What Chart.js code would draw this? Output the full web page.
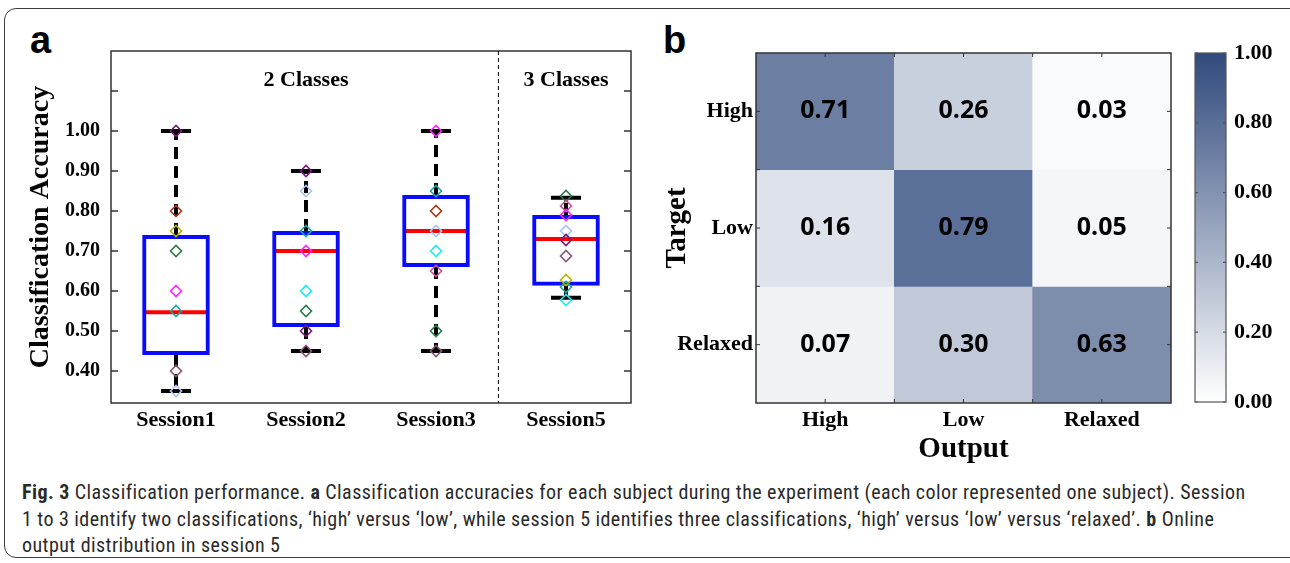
<!DOCTYPE html>
<html lang="en">
<head>
<meta charset="UTF-8">
<title>Fig. 3 Classification performance</title>
<script src="https://cdn.jsdelivr.net/npm/chart.js@4"></script>
<style>
  body { margin: 0; width: 1290px; height: 563px; overflow: hidden; background: #fff; position: relative; }
  .frame { position: absolute; left: 4px; top: 8px; width: 1310px; height: 548px; border: 1.5px solid #3c3c3c; border-radius: 12px; }
  canvas { position: absolute; top: 0; }
  .panel { position: absolute; font: bold 38px "Liberation Sans", Arial, sans-serif; line-height: 38px; color: #000; }
  .caption { position: absolute; left: 22px; top: 479px; width: 1260px; font-family: "Liberation Sans Narrow", "Roboto Condensed", sans-serif; font-size: 20px; letter-spacing: 0.43px; line-height: 26.5px; color: #2a2a2a; white-space: nowrap; }
</style>
</head>
<body>
<div class="frame"></div>
<div class="panel" style="left:30px; top:21px;">a</div>
<div class="panel" style="left:663px; top:21px;">b</div>
<canvas id="box" width="650" height="460" style="left:0;"></canvas>
<canvas id="heat" width="540" height="470" style="left:650px;"></canvas>
<canvas id="bar" width="110" height="470" style="left:1180px;"></canvas>
<div class="caption">
  <b>Fig. 3</b> Classification performance. <b>a</b> Classification accuracies for each subject during the experiment (each color represented one subject). Session<br>
  1 to 3 identify two classifications, ‘high’ versus ‘low’, while session 5 identifies three classifications, ‘high’ versus ‘low’ versus ‘relaxed’. <b>b</b> Online<br>
  output distribution in session 5
</div>
<script>
// panel a: box plot data
const sessions = ['Session1', 'Session2', 'Session3', 'Session5'];
const boxLow = [0.44, 0.51, 0.66, 0.613];
const boxHigh = [0.74, 0.75, 0.84, 0.79];
const medians = [0.547, 0.70, 0.75, 0.73];
const whiskerLow = [0.35, 0.45, 0.45, 0.583];
const whiskerHigh = [1.00, 0.90, 1.00, 0.833];

const subjectColors = {
  purple: '#7a1a7a', brown: '#a33b14', olive: '#b8b400', green: '#2a7a4a', magenta: '#ff22ff',
  teal: '#1aa6a6', mauve: '#86567a', lightblue: '#a8c4f5', cyan: '#19eef0', pink: '#cc4f9a'
};
const pointValues = [
  [1.00, 0.80, 0.75, 0.70, 0.60, 0.55, 0.40, 0.35],
  [0.90, 0.85, 0.75, 0.70, 0.60, 0.55, 0.50, 0.45],
  [1.00, 0.85, 0.80, 0.75, 0.70, 0.65, 0.50, 0.45],
  [0.8375, 0.8125, 0.79, 0.75, 0.7275, 0.6875, 0.6275, 0.61, 0.5775]
];
const pointColors = [
  ['purple', 'brown', 'olive', 'green', 'magenta', 'teal', 'mauve', 'lightblue'],
  ['purple', 'lightblue', 'teal', 'magenta', 'cyan', 'green', 'purple', 'mauve'],
  ['magenta', 'teal', 'brown', 'lightblue', 'cyan', 'pink', 'green', 'mauve'],
  ['green', 'pink', 'magenta', 'lightblue', 'purple', 'mauve', 'olive', 'teal', 'cyan']
];
const yTickMax = 1.0;
const dividerAt = 2.48;
const groupTitles = ['2 Classes', '3 Classes'];
const groupTitleAt = [1, 3];
const groupTitleY = 1.1275;

// panel b: confusion matrix
const classLabels = ['High', 'Low', 'Relaxed'];
const confusion = [
  [0.71, 0.26, 0.03],
  [0.16, 0.79, 0.05],
  [0.07, 0.30, 0.63]
];
const heatLow = [255, 255, 255];
const heatHigh = [48, 74, 124];

const serif = '"Liberation Serif", "Times New Roman", serif';
Chart.defaults.color = '#000';

function heatColor(v) {
  const c = heatLow.map((l, i) => Math.round(l + (heatHigh[i] - l) * v));
  return `rgb(${c})`;
}

// whiskers, caps, median, frame, inward ticks
const boxPlugin = {
  id: 'boxParts',
  beforeDatasetsDraw(chart) {
    const { ctx, scales: { x, y } } = chart;
    const bars = chart.getDatasetMeta(0).data;
    ctx.save();
    sessions.forEach((s, i) => {
      const cx = x.getPixelForValue(i);
      const half = bars[i].width / 2;
      ctx.strokeStyle = '#000';
      ctx.lineWidth = 4;
      ctx.setLineDash([12, 7]);
      ctx.beginPath();
      ctx.moveTo(cx, y.getPixelForValue(boxHigh[i]));
      ctx.lineTo(cx, y.getPixelForValue(whiskerHigh[i]));
      ctx.moveTo(cx, y.getPixelForValue(boxLow[i]));
      ctx.lineTo(cx, y.getPixelForValue(whiskerLow[i]));
      ctx.stroke();
      ctx.setLineDash([]);
      ctx.beginPath();
      [whiskerHigh[i], whiskerLow[i]].forEach(v => {
        ctx.moveTo(cx - 15, y.getPixelForValue(v));
        ctx.lineTo(cx + 15, y.getPixelForValue(v));
      });
      ctx.stroke();
      ctx.strokeStyle = '#ff0000';
      ctx.beginPath();
      ctx.moveTo(cx - half + 3, y.getPixelForValue(medians[i]));
      ctx.lineTo(cx + half - 3, y.getPixelForValue(medians[i]));
      ctx.stroke();
    });
    ctx.restore();
  },
  afterDraw(chart) {
    const { ctx, chartArea: a, scales: { x, y } } = chart;
    ctx.save();
    ctx.strokeStyle = '#333';
    ctx.lineWidth = 1.5;
    ctx.strokeRect(a.left, a.top, a.right - a.left, a.bottom - a.top);
    ctx.beginPath();
    y.ticks.forEach(t => {
      const py = y.getPixelForValue(t.value);
      ctx.moveTo(a.left, py); ctx.lineTo(a.left + 7, py);
      ctx.moveTo(a.right, py); ctx.lineTo(a.right - 7, py);
    });
    ctx.stroke();
    const dx = x.getPixelForValue(dividerAt);
    ctx.strokeStyle = '#000';
    ctx.lineWidth = 1;
    ctx.setLineDash([4, 3]);
    ctx.beginPath();
    ctx.moveTo(dx, a.top); ctx.lineTo(dx, a.bottom);
    ctx.stroke();
    ctx.setLineDash([]);
    ctx.fillStyle = '#000';
    ctx.font = `bold 22px ${serif}`;
    ctx.textAlign = 'center';
    ctx.textBaseline = 'middle';
    groupTitles.forEach((t, i) => ctx.fillText(t, x.getPixelForValue(groupTitleAt[i]), y.getPixelForValue(groupTitleY)));
    ctx.restore();
  }
};

new Chart(document.getElementById('box'), {
  type: 'bar',
  data: {
    labels: sessions,
    datasets: [
      {
        data: sessions.map((s, i) => [boxLow[i], boxHigh[i]]),
        backgroundColor: 'rgba(0,0,0,0)',
        borderColor: '#0a0aff',
        borderWidth: 4,
        borderSkipped: false,
        barPercentage: 0.52,
        categoryPercentage: 1,
        grouped: false,
        order: 2
      },
      ...pointValues.map((vals, i) => ({
        type: 'line',
        showLine: false,
        data: vals.map(v => ({ x: sessions[i], y: v })),
        pointStyle: 'rectRot',
        pointRadius: 5.5,
        pointBorderWidth: 1.6,
        pointBackgroundColor: 'rgba(0,0,0,0)',
        pointBorderColor: pointColors[i].map(c => subjectColors[c]),
        order: 1
      }))
    ]
  },
  options: {
    responsive: false,
    animation: false,
    devicePixelRatio: 1,
    layout: { padding: { left: 0, top: 51, right: 19, bottom: 0 } },
    plugins: { legend: { display: false }, tooltip: { enabled: false } },
    scales: {
      x: {
        grid: { display: false, drawTicks: false },
        border: { display: false },
        ticks: { font: { family: serif, size: 22, weight: 'bold' }, padding: 4 },
        afterFit: s => { s.height = 57; }
      },
      y: {
        min: 0.32,
        max: 1.2,
        grid: { display: false, drawTicks: false },
        border: { display: false },
        ticks: {
          stepSize: 0.1,
          includeBounds: false,
          padding: 11,
          font: { family: serif, size: 20, weight: 'bold' },
          callback: v => (v <= yTickMax + 1e-6 ? v.toFixed(2) : '')
        },
        title: {
          display: true,
          text: 'Classification Accuracy',
          font: { family: serif, size: 28, weight: 'bold' },
          padding: { top: 24, bottom: 0 }
        },
        afterFit: s => { s.width = 111; }
      }
    }
  },
  plugins: [boxPlugin]
});

// cell values, frame and small inward ticks
const heatPlugin = {
  id: 'heatParts',
  afterDatasetsDraw(chart) {
    const { ctx, chartArea: a } = chart;
    ctx.save();
    ctx.fillStyle = '#000';
    ctx.font = 'bold 25px "Open Sans", sans-serif';
    ctx.textAlign = 'center';
    ctx.textBaseline = 'middle';
    confusion.forEach((row, r) => {
      chart.getDatasetMeta(r).data.forEach((el, c) => {
        ctx.fillText(row[c].toFixed(2), el.x, (el.y + el.base) / 2);
      });
    });
    ctx.strokeStyle = '#333';
    ctx.lineWidth = 1.5;
    ctx.strokeRect(a.left, a.top, a.right - a.left, a.bottom - a.top);
    const n = classLabels.length;
    const cw = (a.right - a.left) / n, ch = (a.bottom - a.top) / n;
    ctx.lineWidth = 1;
    ctx.beginPath();
    for (let k = 1; k < 2 * n; k++) {
      const px = a.left + cw * k / 2, py = a.top + ch * k / 2;
      ctx.moveTo(px, a.bottom); ctx.lineTo(px, a.bottom - 4);
      ctx.moveTo(px, a.top); ctx.lineTo(px, a.top + 4);
      ctx.moveTo(a.left, py); ctx.lineTo(a.left + 4, py);
      ctx.moveTo(a.right, py); ctx.lineTo(a.right - 4, py);
    }
    ctx.stroke();
    ctx.restore();
  }
};

new Chart(document.getElementById('heat'), {
  type: 'bar',
  data: {
    labels: classLabels,
    datasets: confusion.map((row, r) => ({
      data: row.map(() => [classLabels.length - 1 - r, classLabels.length - r]),
      backgroundColor: row.map(heatColor),
      borderWidth: 0,
      barPercentage: 1,
      categoryPercentage: 1,
      grouped: false
    }))
  },
  options: {
    responsive: false,
    animation: false,
    devicePixelRatio: 1,
    layout: { padding: { left: 0, top: 53, right: 19, bottom: 0 } },
    plugins: { legend: { display: false }, tooltip: { enabled: false } },
    scales: {
      x: {
        grid: { display: false, drawTicks: false },
        border: { display: false },
        ticks: { font: { family: serif, size: 22, weight: 'bold' }, padding: 4 },
        title: {
          display: true,
          text: 'Output',
          font: { family: serif, size: 29, weight: 'bold' },
          padding: { top: 0, bottom: 3 }
        },
        afterFit: s => { s.height = 67; }
      },
      y: {
        min: 0,
        max: classLabels.length,
        grid: { display: false, drawTicks: false },
        border: { display: false },
        afterBuildTicks: s => { s.ticks = classLabels.map((_, i) => ({ value: i + 0.5 })); },
        ticks: {
          padding: 3,
          font: { family: serif, size: 22, weight: 'bold' },
          callback: v => classLabels[classLabels.length - 1 - Math.floor(v)]
        },
        title: {
          display: true,
          text: 'Target',
          font: { family: serif, size: 29, weight: 'bold' },
          padding: { top: 10, bottom: 0 }
        },
        afterFit: s => { s.width = 106; }
      }
    }
  },
  plugins: [heatPlugin]
});

// colour bar
const barTicks = [0, 0.2, 0.4, 0.6, 0.8, 1.0];
const colorbarPlugin = {
  id: 'colorbarFrame',
  afterDraw(chart) {
    const { ctx, chartArea: a, scales: { y } } = chart;
    ctx.save();
    ctx.strokeStyle = '#555';
    ctx.lineWidth = 1.2;
    ctx.strokeRect(a.left, a.top, a.right - a.left, a.bottom - a.top);
    ctx.beginPath();
    barTicks.forEach(v => {
      const py = y.getPixelForValue(v);
      ctx.moveTo(a.right, py); ctx.lineTo(a.right - 3, py);
      ctx.moveTo(a.left, py); ctx.lineTo(a.left + 3, py);
    });
    ctx.stroke();
    ctx.restore();
  }
};

new Chart(document.getElementById('bar'), {
  type: 'bar',
  data: {
    labels: [''],
    datasets: [{
      data: [[0, 1]],
      backgroundColor: ctx => {
        const a = ctx.chart.chartArea;
        if (!a) return heatColor(0.5);
        const g = ctx.chart.ctx.createLinearGradient(0, a.bottom, 0, a.top);
        g.addColorStop(0, heatColor(0));
        g.addColorStop(1, heatColor(1));
        return g;
      },
      borderWidth: 0,
      barPercentage: 1,
      categoryPercentage: 1
    }]
  },
  options: {
    responsive: false,
    animation: false,
    devicePixelRatio: 1,
    layout: { padding: { left: 15, top: 53, right: 0, bottom: 68 } },
    plugins: { legend: { display: false }, tooltip: { enabled: false } },
    scales: {
      x: { display: false },
      y: {
        position: 'right',
        min: 0,
        max: 1,
        grid: { display: false, drawTicks: false },
        border: { display: false },
        afterBuildTicks: s => { s.ticks = barTicks.map(v => ({ value: v })); },
        ticks: { padding: 8, font: { family: serif, size: 22, weight: 'bold' }, callback: v => v.toFixed(2) },
        afterFit: s => { s.width = 64; }
      }
    }
  },
  plugins: [colorbarPlugin]
});
</script>
</body>
</html>
